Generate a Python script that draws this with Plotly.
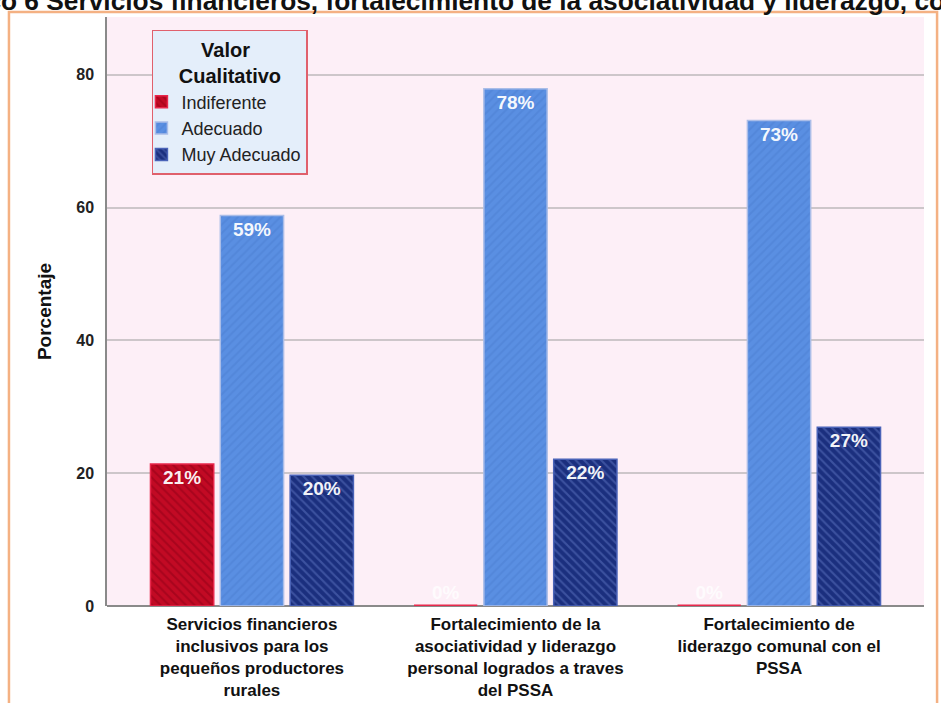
import plotly.graph_objects as go

categorias = [
    "Servicios financieros<br>inclusivos para los<br>pequeños productores<br>rurales",
    "Fortalecimiento de la<br>asociatividad y liderazgo<br>personal logrados a traves<br>del PSSA",
    "Fortalecimiento de<br>liderazgo comunal con el<br>PSSA",
]
indiferente = [21.4, 0, 0]
adecuado = [58.8, 77.9, 73.1]
muy_adecuado = [19.7, 22.1, 26.9]
y_ticks = [0, 20, 40, 60, 80]

titulo = "Gráfico 6 Servicios financieros, fortalecimiento de la asociatividad y liderazgo, con el PSSA"

# nombre, valores, color base, color rayas, forma rayas, borde
series = [
    ("Indiferente", indiferente, "#c20a24", "#8e0016", "\\", "#e8284c"),
    ("Adecuado", adecuado, "#5a8fe2", "#4c7fd2", "/", "#aabde8"),
    ("Muy Adecuado", muy_adecuado, "#1b2f7e", "#5d74c0", "\\", "#4a63b8"),
]

fig = go.Figure()
for nombre, vals, base, raya, forma, borde in series:
    pos = ["inside" if v > 0 else "outside" for v in vals]
    # las barras en cero se ven como una linea sobre el eje
    grosor = [1.5 if v > 0 else 3 for v in vals]
    fig.add_trace(go.Bar(
        name=nombre, x=categorias, y=vals,
        marker=dict(color=base, line=dict(color=borde, width=grosor),
                    pattern=dict(shape=forma, fgcolor=raya, bgcolor=base,
                                 size=6, solidity=0.35)),
        texttemplate="%{y:.0f}%", textposition=pos,
        insidetextanchor="end", cliponaxis=False,
        textfont=dict(family="Arial", size=19, weight="bold", color="rgba(255,255,255,0.95)"),
        outsidetextfont=dict(family="Arial", size=19, weight="bold", color="rgba(255,255,255,0.75)"),
    ))

fig.update_layout(
    width=941, height=703,
    margin=dict(l=107, r=17, t=17, b=97),
    paper_bgcolor="white", plot_bgcolor="#fdeff7",
    barmode="group", bargap=0.205, bargroupgap=0.094,
    font=dict(family="Arial", color="#111"),
    showlegend=True,
    legend=dict(
        x=0.055, y=0.978, xanchor="left", yanchor="top",
        bgcolor="#e4eefa", bordercolor="#e0606c", borderwidth=1.5,
        title=dict(text="&nbsp;&nbsp;&nbsp;&nbsp;Valor<br>Cualitativo", side="top center",
                   font=dict(family="Arial", size=20, weight="bold", color="#111")),
        font=dict(family="Arial", size=18, color="#222"),
        itemwidth=30, tracegroupgap=0, indentation=-12,
    ),
    shapes=[dict(type="rect", xref="paper", yref="paper",
                 x0=-0.12, x1=1.016, y0=-0.2, y1=1.0085,
                 line=dict(color="#f4b183", width=2.5), layer="below")],
    annotations=[dict(text=titulo, xref="paper", yref="paper",
                      x=-0.225, y=0.999, xanchor="left", yanchor="bottom",
                      showarrow=False,
                      font=dict(family="Arial", size=26.3, weight="bold", color="#111"))],
)
fig.update_xaxes(
    range=[-0.55, 2.55], showgrid=False, ticks="", showline=False,
    tickfont=dict(family="Arial", size=17, weight="bold", color="#111"),
    ticklabelstandoff=6, automargin=False,
)
fig.update_yaxes(
    range=[0, 88.7], tickvals=y_ticks,
    showgrid=True, gridcolor="#cdc6ca", gridwidth=1.5,
    zeroline=True, zerolinecolor="#8a8a8a", zerolinewidth=2,
    showline=True, linecolor="#8a8a8a", linewidth=1.5,
    tickfont=dict(family="Arial", size=16, weight="bold", color="#222"),
    ticks="", ticklabelstandoff=8, automargin=False,
    title=dict(text="Porcentaje", font=dict(family="Arial", size=19, weight="bold", color="#111"), standoff=20),
)

fig.write_html("out.html", config={"displayModeBar": False},
               post_script="document.body.style.margin='0px';")
